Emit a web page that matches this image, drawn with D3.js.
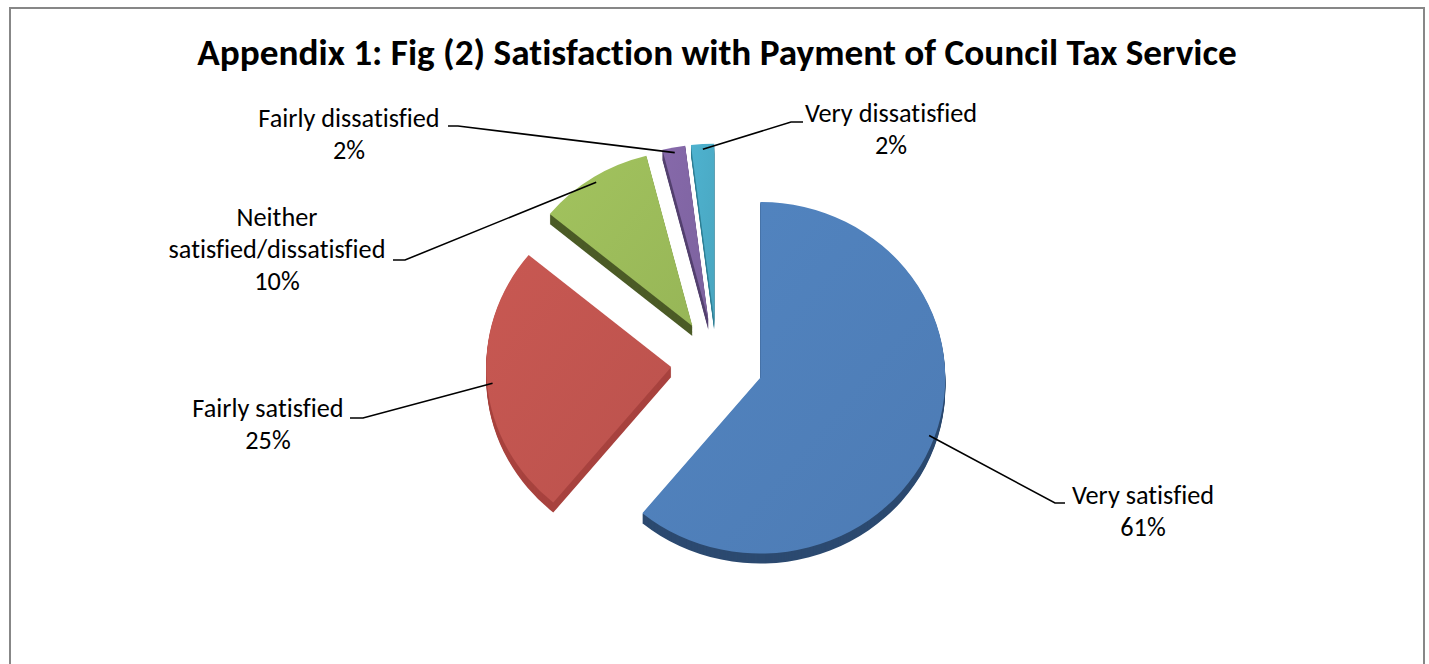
<!DOCTYPE html>
<html>
<head>
<meta charset="utf-8">
<script src="https://cdn.jsdelivr.net/npm/d3@7"></script>
<style>
  html, body { margin: 0; padding: 0; background: #fff; }
  svg { display: block; }
  text { font-variant-ligatures: none; }
</style>
</head>
<body>
<svg id="chart" width="1429" height="664"></svg>
<script>
// Survey responses: satisfaction with the Council Tax payment service
const categories = ["Very satisfied", "Fairly satisfied", "Neither satisfied/dissatisfied", "Fairly dissatisfied", "Very dissatisfied"];
const values = [61, 25, 10, 2, 2];
const labelLines = [["Very satisfied"], ["Fairly satisfied"], ["Neither", "satisfied/dissatisfied"], ["Fairly dissatisfied"], ["Very dissatisfied"]];
const topColors = ["#4f7fb9", "#c0544f", "#9bbb5a", "#8065a3", "#4babc6"];
const sideColors = ["#2c4a70", "#a8433f", "#4b5b26", "#54406f", "#2f7f95"];

const titleText = "Appendix 1: Fig (2) Satisfaction with Payment of Council Tax Service";

// Layout of the label blocks: centre x, first baseline, stub start, stub end
const labelLayout = [
  { cx: 1143, y: 504, sx: 1065, ex: 1055, ly: 503 },
  { cx: 268,  y: 417, sx: 350,  ex: 363,  ly: 418 },
  { cx: 277,  y: 226, sx: 393,  ex: 405,  ly: 260 },
  { cx: 349,  y: 127, sx: 448,  ex: 458,  ly: 126 },
  { cx: 891,  y: 122, sx: 803,  ex: 791,  ly: 122 }
];

const svg = d3.select("#chart");
const fontStack = "Carlito, Lato, 'Open Sans', sans-serif";

// Frame
svg.append("rect")
  .attr("x", 10).attr("y", 8)
  .attr("width", 1414).attr("height", 700)
  .attr("fill", "#fff")
  .attr("stroke", "#878787")
  .attr("stroke-width", 2);

// Title, sized to span the chart heading width
const title = svg.append("text")
  .attr("x", 717).attr("y", 65)
  .attr("text-anchor", "middle")
  .attr("font-family", fontStack)
  .attr("font-weight", "bold")
  .attr("font-size", 30)
  .attr("fill", "#000")
  .text(titleText);
const tw = title.node().getComputedTextLength();
title.attr("font-size", 30 * 1040 / tw);

// Pie geometry
const cx = 717, cy = 363;
const radius = 185;
const tilt = 0.95;
const explode = 46;
const depth = 10;

const pie = d3.pie().sort(null).value(d => d).startAngle(0).endAngle(2 * Math.PI);
const arcs = pie(values);
const arc = d3.arc().innerRadius(0).outerRadius(radius);

const defs = svg.append("defs");
arcs.forEach((a, i) => {
  const g = defs.append("linearGradient")
    .attr("id", "face" + i)
    .attr("x1", "0").attr("y1", "0").attr("x2", "1").attr("y2", "1");
  g.append("stop").attr("offset", "0%").attr("stop-color", d3.color(topColors[i]).brighter(0.12));
  g.append("stop").attr("offset", "100%").attr("stop-color", d3.color(topColors[i]).darker(0.08));
});

function sliceOrigin(a) {
  const mid = (a.startAngle + a.endAngle) / 2;
  return [cx + explode * Math.sin(mid), cy - explode * Math.cos(mid) * tilt];
}

const pieG = svg.append("g");
arcs.forEach((a, i) => {
  const [ox, oy] = sliceOrigin(a);
  const sg = pieG.append("g");
  // extruded side
  for (let k = depth; k >= 1; k--) {
    sg.append("path")
      .attr("d", arc(a))
      .attr("transform", `translate(${ox},${oy + k}) scale(1,${tilt})`)
      .attr("fill", sideColors[i]);
  }
  // top face
  sg.append("path")
    .attr("d", arc(a))
    .attr("transform", `translate(${ox},${oy}) scale(1,${tilt})`)
    .attr("fill", `url(#face${i})`);
});

// Labels and leader lines
const labelG = svg.append("g")
  .attr("font-family", fontStack)
  .attr("fill", "#000");

// Size the label font from the widest label line
const probe = labelG.append("text").attr("font-size", 26).text("satisfied/dissatisfied");
const labelSize = 26 * 217 / probe.node().getComputedTextLength();
probe.remove();
const lineGap = 32;

arcs.forEach((a, i) => {
  const L = labelLayout[i];
  const lines = labelLines[i].concat([values[i] + "%"]);
  const t = labelG.append("text")
    .attr("text-anchor", "middle")
    .attr("font-size", labelSize);
  lines.forEach((ln, j) => {
    t.append("tspan").attr("x", L.cx).attr("y", L.y + j * lineGap).text(ln);
  });

  const [ox, oy] = sliceOrigin(a);
  const mid = (a.startAngle + a.endAngle) / 2;
  const rr = radius * 0.97;
  const px = ox + rr * Math.sin(mid);
  const py = oy - rr * Math.cos(mid) * tilt;
  svg.append("path")
    .attr("d", d3.line()([[L.sx, L.ly], [L.ex, L.ly], [px, py]]))
    .attr("fill", "none")
    .attr("stroke", "#000")
    .attr("stroke-width", 1.6);
});
</script>
</body>
</html>
